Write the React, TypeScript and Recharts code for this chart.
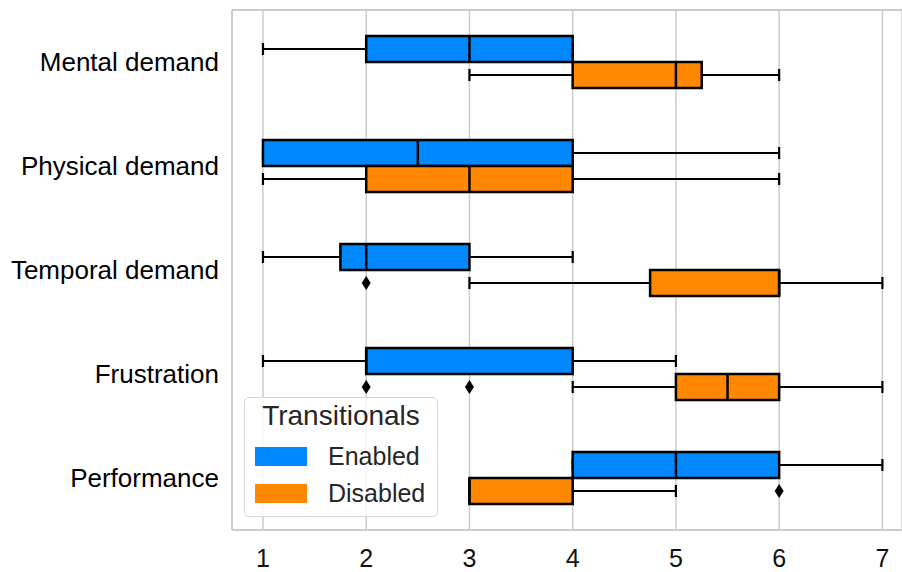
import { ComposedChart, Bar, XAxis, YAxis, CartesianGrid } from 'recharts';

const FONT = '"Liberation Sans", Arial, Helvetica, sans-serif';

const categories = ['Mental demand', 'Physical demand', 'Temporal demand', 'Frustration', 'Performance'];
const seriesNames = ['Enabled', 'Disabled'];
const seriesColors = ['#0088ff', '#ff8800'];
const xTicks = [1, 2, 3, 4, 5, 6, 7];

// Enabled
const enabledLow = [1, 1, 1, 1, 4];
const enabledQ1 = [2, 1, 1.75, 2, 4];
const enabledMedian = [3, 2.5, 2, 2, 5];
const enabledQ3 = [4, 4, 3, 4, 6];
const enabledHigh = [4, 6, 4, 5, 7];
const enabledOutliers: number[][] = [[], [], [], [], []];

// Disabled
const disabledLow = [3, 1, 3, 4, 3];
const disabledQ1 = [4, 2, 4.75, 5, 3];
const disabledMedian = [5, 3, 6, 5.5, 3];
const disabledQ3 = [5.25, 4, 6, 6, 4];
const disabledHigh = [6, 6, 7, 7, 5];
const disabledOutliers: number[][] = [[], [], [2], [2, 3], [6]];

const rows = categories.map((category, i) => ({
  category,
  enabledRange: [enabledLow[i], enabledHigh[i]],
  disabledRange: [disabledLow[i], disabledHigh[i]],
  enabled: { lo: enabledLow[i], q1: enabledQ1[i], med: enabledMedian[i], q3: enabledQ3[i], hi: enabledHigh[i], out: enabledOutliers[i] },
  disabled: { lo: disabledLow[i], q1: disabledQ1[i], med: disabledMedian[i], q3: disabledQ3[i], hi: disabledHigh[i], out: disabledOutliers[i] },
}));

// bar spans whisker low..high, so the box parts are placed on the same linear scale
const makeBoxShape = (key: 'enabled' | 'disabled', color: string) => (props: any) => {
  const { x, y, width, height, payload } = props;
  const s = payload[key];
  const px = (v: number) => x + ((v - s.lo) / (s.hi - s.lo)) * width;
  const cy = y + height / 2;
  const cap = 6;
  return (
    <g>
      <line x1={px(s.lo)} x2={px(s.q1)} y1={cy} y2={cy} stroke="#000" strokeWidth={2.2} />
      <line x1={px(s.q3)} x2={px(s.hi)} y1={cy} y2={cy} stroke="#000" strokeWidth={2.2} />
      <line x1={px(s.lo)} x2={px(s.lo)} y1={cy - cap} y2={cy + cap} stroke="#000" strokeWidth={2.2} />
      <line x1={px(s.hi)} x2={px(s.hi)} y1={cy - cap} y2={cy + cap} stroke="#000" strokeWidth={2.2} />
      <rect x={px(s.q1)} y={y} width={px(s.q3) - px(s.q1)} height={height} fill={color} stroke="#000" strokeWidth={2.5} />
      <line x1={px(s.med)} x2={px(s.med)} y1={y} y2={y + height} stroke="#000" strokeWidth={2.5} />
      {s.out.map((o: number, j: number) => {
        const ox = px(o);
        return <polygon key={j} points={`${ox},${cy - 7} ${ox + 4.5},${cy} ${ox},${cy + 7} ${ox - 4.5},${cy}`} fill="#000" />;
      })}
    </g>
  );
};

export default function App() {
  return (
    <div style={{ position: 'absolute', left: 0, top: 0, width: 902, height: 572, background: '#fff', fontFamily: FONT }}>
      <ComposedChart
        width={902}
        height={572}
        data={rows}
        layout="vertical"
        margin={{ top: 9, right: 0, bottom: 0, left: 0 }}
        barGap={0}
        barSize={26}
      >
        <CartesianGrid horizontal={false} stroke="#cccccc" strokeWidth={1.5} />
        <XAxis
          type="number"
          domain={[0.7, 7.19]}
          ticks={xTicks}
          allowDataOverflow
          tickLine={false}
          tickSize={0}
          tickMargin={19}
          height={42}
          axisLine={{ stroke: '#cccccc', strokeWidth: 2 }}
          tick={{ fontSize: 25, fill: '#111', fontFamily: FONT }}
        />
        <XAxis
          xAxisId="top"
          orientation="top"
          type="number"
          domain={[0.7, 7.19]}
          ticks={xTicks}
          height={1}
          tick={false}
          tickLine={false}
          axisLine={{ stroke: '#cccccc', strokeWidth: 2 }}
        />
        <YAxis
          type="category"
          dataKey="category"
          width={232}
          tickLine={false}
          tickSize={0}
          tickMargin={13}
          axisLine={{ stroke: '#cccccc', strokeWidth: 2 }}
          tick={{ fontSize: 26, fill: '#000', fontFamily: FONT }}
        />
        <Bar dataKey="enabledRange" name={seriesNames[0]} fill={seriesColors[0]} shape={makeBoxShape('enabled', seriesColors[0])} isAnimationActive={false} />
        <Bar dataKey="disabledRange" name={seriesNames[1]} fill={seriesColors[1]} shape={makeBoxShape('disabled', seriesColors[1])} isAnimationActive={false} />
      </ComposedChart>

      <div
        style={{
          position: 'absolute',
          left: 244,
          top: 397,
          width: 194,
          height: 120,
          boxSizing: 'border-box',
          border: '1.5px solid #d6d6d6',
          borderRadius: 5,
          background: 'rgba(255,255,255,0.8)',
          color: '#262626',
        }}
      >
        <div style={{ position: 'absolute', top: 3, left: 0, width: '100%', textAlign: 'center', fontSize: 28, lineHeight: '30px' }}>
          Transitionals
        </div>
        {seriesNames.map((name, i) => (
          <div key={name} style={{ position: 'absolute', top: 43 + i * 37, left: 0, height: 30, width: '100%' }}>
            <div style={{ position: 'absolute', left: 10, top: 5.5, width: 52, height: 19, background: seriesColors[i] }} />
            <div style={{ position: 'absolute', left: 83, top: 0, fontSize: 25, lineHeight: '30px' }}>{name}</div>
          </div>
        ))}
      </div>
    </div>
  );
}
